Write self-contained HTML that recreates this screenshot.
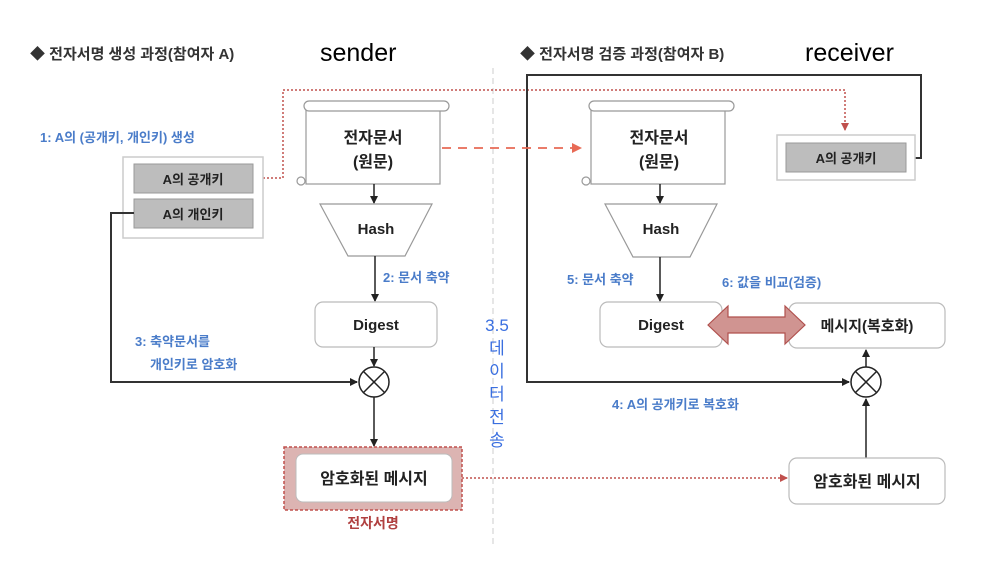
<!DOCTYPE html>
<html><head><meta charset="utf-8"><style>
body{margin:0;background:#fff;}
svg text{font-family:"Liberation Sans","Noto Sans CJK KR",sans-serif;}
</style></head><body>
<svg width="1008" height="558" viewBox="0 0 1008 558" xmlns="http://www.w3.org/2000/svg">
<defs>
<marker id="ab" markerWidth="8" markerHeight="8" refX="7" refY="4" orient="auto" markerUnits="userSpaceOnUse"><path d="M0,0 L8,4 L0,8 z" fill="#222"/></marker>
<marker id="ar" markerWidth="10" markerHeight="10" refX="9" refY="5" orient="auto" markerUnits="userSpaceOnUse"><path d="M0,0 L10,5 L0,10 z" fill="#e86a55"/></marker>
<marker id="ad" markerWidth="8" markerHeight="8" refX="7" refY="4" orient="auto" markerUnits="userSpaceOnUse"><path d="M0,0 L8,4 L0,8 z" fill="#c0504d"/></marker>
</defs>
<!-- titles -->
<text x="30" y="59" font-size="15" font-weight="bold" fill="#333">◆ 전자서명 생성 과정(참여자 A)</text>
<text x="320" y="61" font-size="25" fill="#000">sender</text>
<text x="520" y="59" font-size="15" font-weight="bold" fill="#333">◆ 전자서명 검증 과정(참여자 B)</text>
<text x="805" y="61" font-size="25" fill="#000">receiver</text>
<line x1="493" y1="68" x2="493" y2="545" stroke="#ccc" stroke-dasharray="6,4"/>

<!-- red dotted top -->
<polyline points="255,178 283,178 283,90 845,90 845,130" fill="none" stroke="#c0504d" stroke-width="1.5" stroke-dasharray="2,2" marker-end="url(#ad)"/>
<!-- black frame right -->
<polyline points="906,158 921,158 921,75 527,75 527,382 849,382" fill="none" stroke="#333" stroke-width="2" marker-end="url(#ab)"/>

<!-- left keys -->
<text x="40" y="142" font-size="13" font-weight="bold" fill="#4a7cc9">1: A의 (공개키, 개인키) 생성</text>
<rect x="123" y="157" width="140" height="81" fill="#fff" stroke="#ccc" stroke-width="1.5"/>
<rect x="134" y="164" width="119" height="29" fill="#bdbdbd" stroke="#999"/>
<text x="193" y="184" font-size="13" font-weight="bold" text-anchor="middle" fill="#222">A의 공개키</text>
<rect x="134" y="199" width="119" height="29" fill="#bdbdbd" stroke="#999"/>
<text x="193" y="219" font-size="13" font-weight="bold" text-anchor="middle" fill="#222">A의 개인키</text>
<polyline points="134,213 111,213 111,382 357,382" fill="none" stroke="#333" stroke-width="2" marker-end="url(#ab)"/>

<!-- left scroll -->
<g fill="#fff" stroke="#999" stroke-width="1.2">
<rect x="306" y="104" width="134" height="80"/>
<rect x="304" y="101" width="145" height="10" rx="5"/>
<circle cx="301" cy="181" r="4"/>
</g>
<text x="373" y="143" font-size="16" font-weight="bold" text-anchor="middle" fill="#222">전자문서</text>
<text x="373" y="167" font-size="16" font-weight="bold" text-anchor="middle" fill="#222">(원문)</text>
<line x1="374" y1="184" x2="374" y2="203" stroke="#222" stroke-width="1.5" marker-end="url(#ab)"/>
<polygon points="320,204 432,204 405,256 348,256" fill="#fff" stroke="#999" stroke-width="1.2"/>
<text x="376" y="234" font-size="15" font-weight="bold" text-anchor="middle" fill="#222">Hash</text>
<line x1="375" y1="256" x2="375" y2="301" stroke="#222" stroke-width="1.5" marker-end="url(#ab)"/>
<text x="383" y="282" font-size="13" font-weight="bold" fill="#4a7cc9">2: 문서 축약</text>
<rect x="315" y="302" width="122" height="45" rx="8" fill="#fff" stroke="#bbb" stroke-width="1.2"/>
<text x="376" y="330" font-size="15" font-weight="bold" text-anchor="middle" fill="#222">Digest</text>
<line x1="374" y1="347" x2="374" y2="366" stroke="#222" stroke-width="1.5" marker-end="url(#ab)"/>
<text x="135" y="346" font-size="13" font-weight="bold" fill="#4a7cc9">3: 축약문서를</text>
<text x="150" y="369" font-size="13" font-weight="bold" fill="#4a7cc9">개인키로 암호화</text>
<g stroke="#222" stroke-width="1.5" fill="#fff"><circle cx="374" cy="382" r="15"/><line x1="363" y1="371" x2="385" y2="393"/><line x1="385" y1="371" x2="363" y2="393"/></g>
<line x1="374" y1="397" x2="374" y2="446" stroke="#222" stroke-width="1.5" marker-end="url(#ab)"/>
<rect x="284" y="447" width="178" height="63" fill="#dcb4b2" stroke="#c0504d" stroke-dasharray="3,2" stroke-width="1.5"/>
<rect x="296" y="454" width="156" height="48" rx="7" fill="#fff" stroke="#bbb"/>
<text x="374" y="484" font-size="16" font-weight="bold" text-anchor="middle" fill="#222">암호화된 메시지</text>
<text x="373" y="528" font-size="14" font-weight="bold" text-anchor="middle" fill="#b04040">전자서명</text>
<line x1="462" y1="478" x2="787" y2="478" stroke="#c0504d" stroke-width="1.5" stroke-dasharray="2,2" marker-end="url(#ad)"/>
<line x1="442" y1="148" x2="581" y2="148" stroke="#e86a55" stroke-width="1.8" stroke-dasharray="9,7" marker-end="url(#ar)"/>

<!-- 3.5 -->
<g font-size="17" fill="#3a6fe0" text-anchor="middle">
<text x="497" y="331">3.5</text><text x="497" y="354">데</text><text x="497" y="377">이</text><text x="497" y="400">터</text><text x="497" y="423">전</text><text x="497" y="446">송</text>
</g>

<!-- right side -->
<g fill="#fff" stroke="#999" stroke-width="1.2">
<rect x="591" y="104" width="134" height="80"/>
<rect x="589" y="101" width="145" height="10" rx="5"/>
<circle cx="586" cy="181" r="4"/>
</g>
<text x="659" y="143" font-size="16" font-weight="bold" text-anchor="middle" fill="#222">전자문서</text>
<text x="659" y="167" font-size="16" font-weight="bold" text-anchor="middle" fill="#222">(원문)</text>
<line x1="660" y1="184" x2="660" y2="203" stroke="#222" stroke-width="1.5" marker-end="url(#ab)"/>
<polygon points="605,204 717,204 690,257 633,257" fill="#fff" stroke="#999" stroke-width="1.2"/>
<text x="661" y="234" font-size="15" font-weight="bold" text-anchor="middle" fill="#222">Hash</text>
<line x1="660" y1="257" x2="660" y2="301" stroke="#222" stroke-width="1.5" marker-end="url(#ab)"/>
<text x="567" y="284" font-size="13" font-weight="bold" fill="#4a7cc9">5: 문서 축약</text>
<text x="722" y="287" font-size="13" font-weight="bold" fill="#4a7cc9">6: 값을 비교(검증)</text>
<rect x="600" y="302" width="122" height="45" rx="8" fill="#fff" stroke="#bbb" stroke-width="1.2"/>
<text x="661" y="330" font-size="15" font-weight="bold" text-anchor="middle" fill="#222">Digest</text>
<rect x="789" y="303" width="156" height="45" rx="8" fill="#fff" stroke="#bbb" stroke-width="1.2"/>
<text x="867" y="331" font-size="15" font-weight="bold" text-anchor="middle" fill="#222">메시지(복호화)</text>
<polygon points="708,325 728,306 728,317 785,317 785,306 805,325 785,344 785,333 728,333 728,344" fill="#d09491" stroke="#b0504d" stroke-width="1.2"/>
<rect x="777" y="135" width="138" height="45" fill="#fff" stroke="#ccc" stroke-width="1.5"/>
<rect x="786" y="143" width="120" height="29" fill="#bdbdbd" stroke="#999"/>
<text x="846" y="163" font-size="13" font-weight="bold" text-anchor="middle" fill="#222">A의 공개키</text>
<g stroke="#222" stroke-width="1.5" fill="#fff"><circle cx="866" cy="382" r="15"/><line x1="855" y1="371" x2="877" y2="393"/><line x1="877" y1="371" x2="855" y2="393"/></g>
<line x1="866" y1="367" x2="866" y2="350" stroke="#222" stroke-width="1.5" marker-end="url(#ab)"/>
<line x1="866" y1="458" x2="866" y2="399" stroke="#222" stroke-width="1.5" marker-end="url(#ab)"/>
<text x="612" y="409" font-size="13" font-weight="bold" fill="#4a7cc9">4: A의 공개키로 복호화</text>
<rect x="789" y="458" width="156" height="46" rx="8" fill="#fff" stroke="#bbb" stroke-width="1.2"/>
<text x="867" y="487" font-size="16" font-weight="bold" text-anchor="middle" fill="#222">암호화된 메시지</text>
</svg>
</body></html>
